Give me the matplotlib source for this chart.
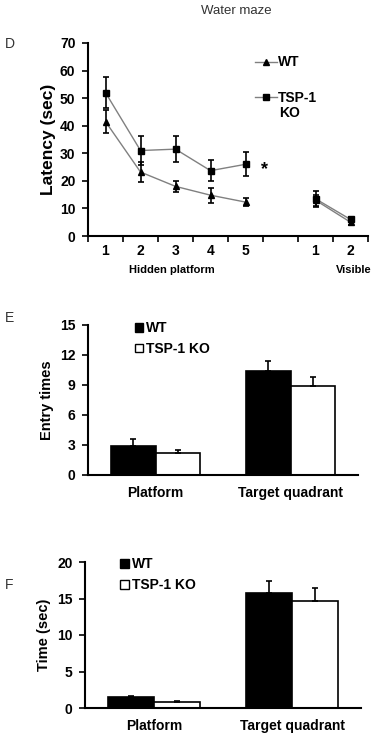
import matplotlib
matplotlib.use("Agg")
import matplotlib.pyplot as plt
import numpy as np
from matplotlib.lines import Line2D
from matplotlib.patches import Patch

plt.rcParams['font.family'] = ['Liberation Sans', 'DejaVu Sans']

# Panel D data
d_ticklabels = ['1', '2', '3', '4', '5', '', '1', '2']
wt_hidden = [41.5, 23.2, 18.0, 14.8, 12.3]
wt_hidden_err = [4.2, 3.6, 2.0, 2.7, 1.6]
ko_hidden = [52.0, 31.0, 31.5, 23.7, 26.0]
ko_hidden_err = [5.5, 5.2, 4.8, 3.8, 4.3]
wt_visible = [13.0, 5.0]
wt_visible_err = [2.0, 1.0]
ko_visible = [13.5, 6.0]
ko_visible_err = [3.0, 1.0]

# Panel E data
bar_categories = ['Platform', 'Target quadrant']
e_wt = [2.9, 10.4]
e_wt_err = [0.7, 1.0]
e_ko = [2.15, 8.9]
e_ko_err = [0.3, 0.9]

# Panel F data
f_wt = [1.5, 15.7]
f_wt_err = [0.2, 1.7]
f_ko = [0.85, 14.7]
f_ko_err = [0.12, 1.7]

W, H = 376, 736
fig = plt.figure(figsize=(W/100, H/100), dpi=100)

def rect(l, r, t, b):
    return [l/W, 1-b/H, (r-l)/W, (b-t)/H]

TICK = 10

# ---- Panel D ----
axD = fig.add_axes(rect(88, 368, 43, 236))
hx = np.arange(5)
vx = np.arange(6, 8)
line_kw = dict(color='#808080', lw=1.0, mec='black', mfc='black', ecolor='black',
               elinewidth=1.2, capsize=2.5, capthick=1.2)
axD.errorbar(hx, wt_hidden, yerr=wt_hidden_err, marker='^', ms=5, **line_kw)
axD.errorbar(hx, ko_hidden, yerr=ko_hidden_err, marker='s', ms=5, **line_kw)
axD.errorbar(vx, wt_visible, yerr=wt_visible_err, marker='^', ms=5, **line_kw)
axD.errorbar(vx, ko_visible, yerr=ko_visible_err, marker='s', ms=5, **line_kw)
axD.set_xlim(-0.5, 7.5)
axD.set_ylim(0, 70)
axD.set_yticks(np.arange(0, 71, 10))
axD.set_xticks(np.arange(8))
axD.set_xticklabels(d_ticklabels, fontsize=TICK, fontweight='bold')
axD.set_xticks(np.arange(-0.5, 8, 1), minor=True)
axD.tick_params(axis='x', which='major', length=0, pad=6)
axD.tick_params(axis='x', which='minor', length=4, width=1.2, direction='out')
axD.tick_params(axis='y', length=4, width=1.2, direction='out', pad=5)
for lab in axD.get_yticklabels():
    lab.set_fontsize(TICK); lab.set_fontweight('bold')
for s in ['top', 'right']:
    axD.spines[s].set_visible(False)
for s in ['left', 'bottom']:
    axD.spines[s].set_linewidth(1.5)
axD.set_ylabel('Latency (sec)', fontsize=12.5, fontweight='bold', labelpad=3)
hW = Line2D([], [], color='#808080', lw=1.0, marker='^', ms=5, mec='black', mfc='black')
hK = Line2D([], [], color='#808080', lw=1.0, marker='s', ms=5, mec='black', mfc='black')
axD.legend([hW, hK], ['WT', 'TSP-1'], loc='upper left', bbox_to_anchor=(0.55, 1.0),
           frameon=False, handlelength=1.6, handletextpad=0.1, labelspacing=1.55,
           prop=dict(family='Liberation Sans', weight='bold', size=10))
fig.text(279/W, 1-113/H, 'KO', fontsize=10, fontweight='bold', ha='left', va='center')
axD.text(4.55, 24, '*', fontsize=13, fontweight='bold', ha='center', va='center')
fig.text(172/W, 1-270/H, 'Hidden platform', fontsize=8, fontweight='bold', ha='center', va='center')
fig.text(354/W, 1-270/H, 'Visible', fontsize=8, fontweight='bold', ha='center', va='center')
fig.text(236/W, 1-11/H, 'Water maze', fontsize=9.5, ha='center', va='center', color='#333333')
fig.text(5/W, 1-44/H, 'D', fontsize=10, ha='left', va='center', color='#333333')

# ---- Bar panels ----
def bar_panel(box, wt, wt_err, ko, ko_err, ymax, step, ylabel, letter, letter_xy, leg_anchor):
    ax = fig.add_axes(rect(*box))
    x = np.arange(len(bar_categories))
    bw = 0.333
    ax.bar(x - bw/2, wt, bw, color='black', edgecolor='black', lw=1.2)
    ax.bar(x + bw/2, ko, bw, color='white', edgecolor='black', lw=1.2)
    ax.errorbar(x - bw/2, wt, yerr=[np.zeros(len(wt)), wt_err], fmt='none', ecolor='black',
                elinewidth=1.2, capsize=2.5, capthick=1.2)
    ax.errorbar(x + bw/2, ko, yerr=[np.zeros(len(ko)), ko_err], fmt='none', ecolor='black',
                elinewidth=1.2, capsize=2.5, capthick=1.2)
    ax.set_xlim(-0.5, 1.5)
    ax.set_ylim(0, ymax)
    ax.set_yticks(np.arange(0, ymax + 0.1, step))
    ax.set_xticks(x)
    ax.set_xticklabels(bar_categories, fontsize=10, fontweight='bold')
    ax.tick_params(axis='x', length=0, pad=8)
    ax.tick_params(axis='y', length=4, width=1.2, direction='out', pad=5)
    for lab in ax.get_yticklabels():
        lab.set_fontsize(TICK); lab.set_fontweight('bold')
    for s in ['top', 'right']:
        ax.spines[s].set_visible(False)
    for s in ['left', 'bottom']:
        ax.spines[s].set_linewidth(1.5)
    ax.set_ylabel(ylabel, fontsize=10.5, fontweight='bold', labelpad=4)
    hw = Patch(facecolor='black', edgecolor='black')
    hk = Patch(facecolor='white', edgecolor='black')
    ax.legend([hw, hk], ['WT', 'TSP-1 KO'], loc='upper left', bbox_to_anchor=leg_anchor,
              frameon=False, handlelength=0.6, handleheight=0.6, handletextpad=0.2,
              labelspacing=0.5, prop=dict(family='Liberation Sans', weight='bold', size=10))
    fig.text(letter_xy[0]/W, 1-letter_xy[1]/H, letter, fontsize=10, ha='left', va='center', color='#333333')
    return ax

bar_panel((88, 358, 325, 475), e_wt, e_wt_err, e_ko, e_ko_err, 15, 3, 'Entry times', 'E', (5, 318), (0.128, 1.11))
bar_panel((85, 361, 562, 708), f_wt, f_wt_err, f_ko, f_ko_err, 20, 5, 'Time (sec)', 'F', (5, 585), (0.083, 1.117))

fig.savefig('out.png', dpi=100)
